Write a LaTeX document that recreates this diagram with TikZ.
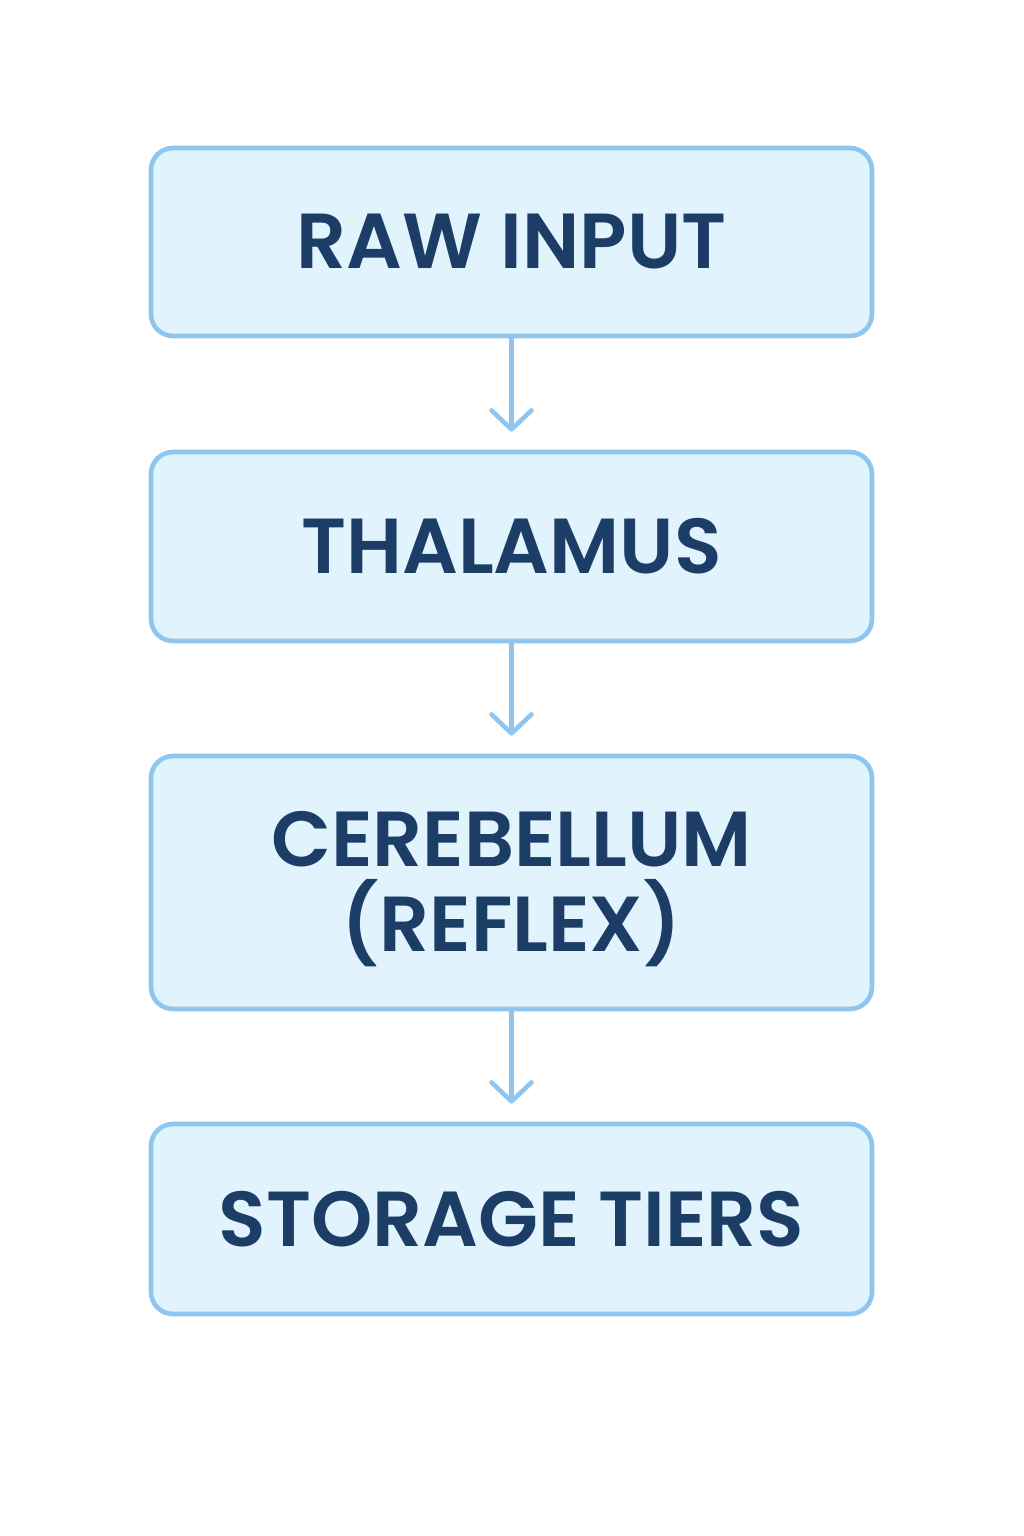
\documentclass[tikz,border=0pt]{standalone}
\usepackage{fontspec}
\setmainfont{Poppins}[UprightFont=* SemiBold]
\usetikzlibrary{arrows.meta}
\definecolor{boxfill}{HTML}{E1F3FD}
\definecolor{boxline}{HTML}{8FC5EE}
\definecolor{boxtext}{HTML}{1B3D66}
\tikzset{
  stagebox/.style={draw=boxline, fill=boxfill, line width=4.6pt, rounded corners=22pt,
    minimum width=721pt, text=boxtext, align=center, inner sep=0pt,
    font=\fontsize{78}{85}\selectfont},
  stagetext/.style={text=boxtext, align=center, inner sep=0pt,
    font=\fontsize{78}{85}\selectfont},
  flowarrow/.style={draw=boxline, line width=4.6pt, line cap=round,
    -{Straight Barb[length=19pt, width=40pt, line width=4.6pt, round]}, shorten >=18pt}
}
\begin{document}
\begin{tikzpicture}[x=1pt,y=-1pt]
\useasboundingbox (0,0) rectangle (1024,1536);
\node[stagebox, minimum height=188pt] (raw) at (511.5,242) {RAW INPUT};
\node[stagebox, minimum height=189pt] (thal) at (511.5,546.5) {THALAMUS};
\node[stagebox, minimum height=253pt] (cereb) at (511.5,882.5) {};
\node[stagetext] (cerebtext) at (511.5,889.5) {CEREBELLUM\\(REFLEX)};
\node[stagebox, minimum height=190pt] (store) at (511.5,1219) {STORAGE TIERS};
\draw[flowarrow] (raw.south) -- (thal.north);
\draw[flowarrow] (thal.south) -- (cereb.north);
\draw[flowarrow] (cereb.south) -- (store.north);
\end{tikzpicture}
\end{document}
